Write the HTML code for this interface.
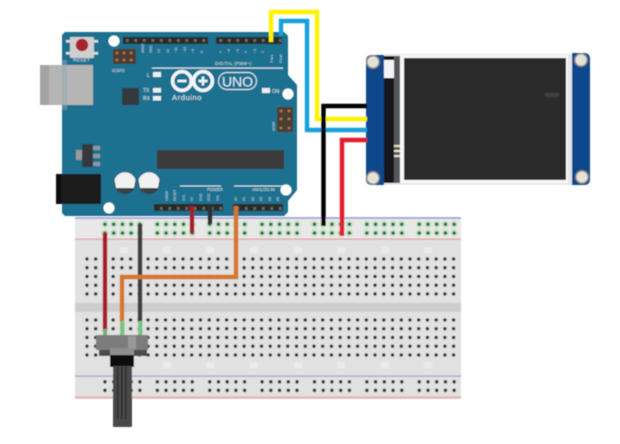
<!DOCTYPE html>
<html><head><meta charset="utf-8"><style>html,body{margin:0;padding:0;background:#fff;width:620px;height:444px;overflow:hidden}svg{display:block}text{font-family:"Liberation Sans",sans-serif}</style></head><body>
<svg width="620" height="444" viewBox="0 0 620 444" xmlns="http://www.w3.org/2000/svg">
<defs>
<filter id="b" x="-5%" y="-5%" width="110%" height="110%"><feGaussianBlur stdDeviation="0.45"/></filter>
<pattern id="h1" patternUnits="userSpaceOnUse" x="82.6" y="254.6" width="8.73" height="8.75"><circle cx="4.36" cy="4.37" r="1.7" fill="#2a2a2a"/></pattern>
<pattern id="h2" patternUnits="userSpaceOnUse" x="82.6" y="315.6" width="8.73" height="8.75"><circle cx="4.36" cy="4.37" r="1.7" fill="#2a2a2a"/></pattern>
<pattern id="r1" patternUnits="userSpaceOnUse" x="100.6" y="219.9" width="8.73" height="8.75"><circle cx="4.36" cy="4.37" r="3.6" fill="#c6e2c6"/><circle cx="4.36" cy="4.37" r="1.7" fill="#1f6a35"/></pattern>
<pattern id="r2" patternUnits="userSpaceOnUse" x="100.6" y="377.6" width="8.73" height="8.5"><circle cx="4.36" cy="4.25" r="1.7" fill="#2a2a2a"/></pattern>
<pattern id="hd" patternUnits="userSpaceOnUse" x="123" y="37" width="8.5" height="7"><rect width="8.5" height="7" fill="#2c2c2c"/><rect x="3" y="2" width="2.6" height="3" fill="#6b6b5c"/></pattern>
</defs>
<g filter="url(#b)">
<!-- breadboard -->
<rect x="75" y="217" width="386" height="182" fill="#e1e1e1"/>
<rect x="75" y="218" width="386" height="21" fill="#e8e8e8"/>
<rect x="75" y="303" width="386" height="9" fill="#cdcdcd"/>
<rect x="75" y="217" width="386" height="2" fill="#aaaadb"/>
<rect x="75" y="238.5" width="386" height="1.2" fill="#e59a9f"/>
<rect x="75" y="375.5" width="386" height="1.2" fill="#9c9cd6"/>
<rect x="75" y="396.5" width="386" height="2" fill="#e5aeb2"/>
<g fill="#ebebeb"><rect x="120" y="247" width="8" height="6"/><rect x="163" y="247" width="8" height="6"/><rect x="206" y="247" width="8" height="6"/><rect x="250" y="247" width="8" height="6"/><rect x="294" y="247" width="8" height="6"/><rect x="337" y="247" width="8" height="6"/><rect x="381" y="247" width="8" height="6"/><rect x="424" y="247" width="8" height="6"/><rect x="163" y="362" width="8" height="6"/><rect x="206" y="362" width="8" height="6"/><rect x="250" y="362" width="8" height="6"/><rect x="294" y="362" width="8" height="6"/><rect x="337" y="362" width="8" height="6"/><rect x="381" y="362" width="8" height="6"/><rect x="424" y="362" width="8" height="6"/></g>
<rect x="82.6" y="254.6" width="375" height="43.75" fill="url(#h1)"/>
<rect x="82.6" y="315.6" width="375" height="43.75" fill="url(#h2)"/>
<g fill="#e1e1e1"><rect x="100.5" y="254" width="8" height="45"/><rect x="100.5" y="315" width="8" height="45"/><rect x="135.6" y="254" width="8" height="18"/><rect x="231.5" y="254" width="8" height="18"/></g>
<g fill="url(#r1)"><rect x="100.6" y="219.9" width="43.65" height="17.5"/><rect x="152.9" y="219.9" width="43.65" height="17.5"/><rect x="205.3" y="219.9" width="43.65" height="17.5"/><rect x="257.7" y="219.9" width="43.65" height="17.5"/><rect x="309.6" y="219.9" width="43.65" height="17.5"/><rect x="362" y="219.9" width="43.65" height="17.5"/><rect x="414.4" y="219.9" width="43.65" height="17.5"/></g>
<g fill="url(#r2)"><rect x="100.6" y="377.6" width="43.65" height="17"/><rect x="152.9" y="377.6" width="43.65" height="17"/><rect x="205.3" y="377.6" width="43.65" height="17"/><rect x="257.7" y="377.6" width="43.65" height="17"/><rect x="309.6" y="377.6" width="43.65" height="17"/><rect x="362" y="377.6" width="43.65" height="17"/><rect x="414.4" y="377.6" width="43.65" height="17"/></g>

<!-- arduino -->
<path d="M62 35 L65 32 L284 32 L288 36 L288 75 L297 85 L297 190 L288 201 L288 212 L284 216 L65 216 L62 213 Z" fill="#1a6f90"/>
<rect x="40" y="65" width="53" height="40" fill="#b5b5b5"/><rect x="40" y="65" width="9" height="40" fill="#a3a3a3"/><rect x="62" y="60" width="5" height="50" fill="#8fa9b3" opacity=".5"/>
<rect x="70" y="37" width="24" height="21" rx="1" fill="#cfcfcf"/><rect x="66" y="40" width="4" height="2.5" fill="#ddd"/><rect x="66" y="52" width="4" height="2.5" fill="#ddd"/><rect x="94" y="40" width="4" height="2.5" fill="#ddd"/><rect x="94" y="52" width="4" height="2.5" fill="#ddd"/>
<circle cx="82" cy="45" r="6.2" fill="#a8262c"/>
<text x="73" y="61.5" font-size="4.6" fill="#dfe9ee" letter-spacing=".4">RESET</text>
<circle cx="114" cy="41" r="5.5" fill="#fff"/><circle cx="288" cy="94" r="5.5" fill="#fff"/><circle cx="109" cy="208" r="5.5" fill="#fff"/><circle cx="286" cy="190" r="5.5" fill="#fff"/>
<rect x="123" y="37" width="85" height="7" fill="url(#hd)"/><rect x="216" y="37" width="66" height="7" fill="url(#hd)"/>
<rect x="154" y="204" width="69" height="7" fill="url(#hd)"/><rect x="233" y="204" width="50" height="7" fill="url(#hd)"/>
<rect x="113" y="49" width="23" height="15" fill="#4d3c32"/><g fill="#a97f4e"><circle cx="117" cy="53" r="1.4"/><circle cx="124" cy="53" r="1.4"/><circle cx="131" cy="53" r="1.4"/><circle cx="117" cy="60" r="1.4"/><circle cx="124" cy="60" r="1.4"/><circle cx="131" cy="60" r="1.4"/></g>
<text x="112" y="72" font-size="4.4" fill="#dfe9ee">ICSP2</text>
<rect x="152" y="67.5" width="131" height="1.2" fill="#d7e5ea"/>
<text x="215" y="65" font-size="4.2" fill="#dfe9ee" letter-spacing=".3">DIGITAL (PWM~)</text>
<g font-size="3.6" fill="#c9dbe2"><text transform="translate(144,53) rotate(-90)">AREF</text><text transform="translate(152,53) rotate(-90)">GND</text><text transform="translate(160,53) rotate(-90)">13</text><text transform="translate(169,53) rotate(-90)">12</text><text transform="translate(177,53) rotate(-90)">~11</text><text transform="translate(186,53) rotate(-90)">~10</text><text transform="translate(194,53) rotate(-90)">~9</text><text transform="translate(203,53) rotate(-90)">8</text><text transform="translate(222,53) rotate(-90)">7</text><text transform="translate(230,53) rotate(-90)">~6</text><text transform="translate(239,53) rotate(-90)">~5</text><text transform="translate(247,53) rotate(-90)">4</text><text transform="translate(256,53) rotate(-90)">~3</text><text transform="translate(264,53) rotate(-90)">2</text><text transform="translate(273,63) rotate(-90)">TX▸1</text><text transform="translate(282,63) rotate(-90)">RX◂0</text></g>
<text x="147" y="77" font-size="5" fill="#e5eef2">L</text><rect x="153" y="72" width="8" height="5" fill="#e9eef0"/>
<text x="143" y="92" font-size="5" fill="#e5eef2">TX</text><rect x="153" y="88" width="8" height="4.5" fill="#e9eef0"/>
<text x="143" y="100" font-size="5" fill="#e5eef2">RX</text><rect x="153" y="96" width="8" height="4.5" fill="#e9eef0"/>
<rect x="122" y="88" width="17" height="17" fill="#35393d"/>
<g fill="none" stroke="#f2f6f8" stroke-width="3.6"><circle cx="182" cy="81" r="9.4"/><circle cx="203" cy="81" r="9.4"/></g>
<rect x="177.5" y="79.7" width="9" height="2.6" fill="#f2f6f8"/><rect x="198.5" y="79.7" width="9" height="2.6" fill="#f2f6f8"/><rect x="201.7" y="76.5" width="2.6" height="9" fill="#f2f6f8"/>
<text x="172" y="100" font-size="7.5" fill="#e5eef2" letter-spacing=".6" font-family="Liberation Mono">Arduino</text>
<rect x="218.5" y="72.5" width="38" height="17" rx="8.5" fill="none" stroke="#e5eef2" stroke-width="1"/>
<text x="237.5" y="86.5" font-size="14" fill="#e5eef2" text-anchor="middle">UNO</text>
<rect x="262" y="88" width="8" height="5" fill="#e9eef0"/><text x="272" y="93" font-size="5" fill="#e5eef2">ON</text>
<rect x="277" y="107" width="16" height="25" fill="#4d3c32"/><g fill="#a97f4e"><circle cx="281" cy="111" r="1.4"/><circle cx="289" cy="111" r="1.4"/><circle cx="281" cy="119" r="1.4"/><circle cx="289" cy="119" r="1.4"/><circle cx="281" cy="128" r="1.4"/><circle cx="289" cy="128" r="1.4"/></g>
<text transform="translate(275,131) rotate(-90)" font-size="4" fill="#dfe9ee">ICSP</text>
<rect x="157" y="150" width="127" height="19" fill="#3b3b3d"/>
<rect x="76" y="150" width="6" height="10" fill="#9a9a9a"/><rect x="82" y="144" width="11" height="23" fill="#35393d"/><g fill="#8d9aa0"><rect x="93" y="146" width="7" height="4"/><rect x="93" y="154" width="7" height="4"/><rect x="93" y="162" width="7" height="4"/></g>
<rect x="56" y="174" width="45" height="30" fill="#1d1d1f"/><rect x="56" y="174" width="5" height="30" fill="#111"/>
<circle cx="125" cy="183" r="11" fill="#3a3f42"/><path d="M114.5 180 A11 11 0 0 1 135.5 180 L134 188 L116 188 Z" fill="#f1f1f1"/>
<circle cx="149" cy="183" r="11" fill="#3a3f42"/><path d="M138.5 180 A11 11 0 0 1 159.5 180 L158 188 L140 188 Z" fill="#f1f1f1"/>
<rect x="180" y="185.5" width="41" height="1" fill="#d7e5ea"/><rect x="234" y="185.5" width="49" height="1" fill="#d7e5ea"/>
<text x="207" y="191" font-size="4.2" fill="#dfe9ee">POWER</text><text x="252" y="191" font-size="4.2" fill="#dfe9ee">ANALOG IN</text>
<g font-size="3.4" fill="#c9dbe2"><text transform="translate(168,201) rotate(-90)">IOREF</text><text transform="translate(176,201) rotate(-90)">RESET</text><text transform="translate(185,201) rotate(-90)">3V3</text><text transform="translate(193,201) rotate(-90)">5V</text><text transform="translate(202,201) rotate(-90)">GND</text><text transform="translate(210,201) rotate(-90)">GND</text><text transform="translate(219,201) rotate(-90)">VIN</text><text transform="translate(237,201) rotate(-90)">A0</text><text transform="translate(245,201) rotate(-90)">A1</text><text transform="translate(254,201) rotate(-90)">A2</text><text transform="translate(262,201) rotate(-90)">A3</text><text transform="translate(271,201) rotate(-90)">A4</text><text transform="translate(279,201) rotate(-90)">A5</text></g>

<!-- display -->
<rect x="384" y="54" width="188" height="131" fill="#e6e6e6"/>
<path d="M372 55 H384 V185 H372 Q366 185 366 179 V61 Q366 55 372 55Z" fill="#11478c"/>
<path d="M572 53 H584 Q590 53 590 59 V179 Q590 185 584 185 H572Z" fill="#11478c"/>
<rect x="384" y="56" width="17" height="127" fill="#17181a"/>
<rect x="384" y="60" width="10" height="18" fill="#f4f4f4"/>
<rect x="394" y="56" width="6" height="127" fill="#55585a"/>
<rect x="394" y="145" width="6" height="2" fill="#e8e4c0"/><rect x="394" y="150" width="6" height="2" fill="#e8e4c0"/><rect x="394" y="155" width="6" height="2" fill="#e8e4c0"/>
<rect x="400" y="55" width="168" height="128" fill="#f7f7f7"/>
<rect x="404" y="58" width="162" height="122" fill="#2a2a2a"/>
<rect x="545" y="93" width="14" height="4" fill="#3f3f3f"/>
<circle cx="373" cy="62" r="7" fill="#888"/><circle cx="373" cy="62" r="5.5" fill="#e5e3d6"/>
<circle cx="581" cy="60" r="7" fill="#888"/><circle cx="581" cy="60" r="5.5" fill="#e5e3d6"/>
<circle cx="373" cy="178" r="7" fill="#888"/><circle cx="373" cy="178" r="5.5" fill="#e5e3d6"/>
<circle cx="582" cy="177" r="7" fill="#888"/><circle cx="582" cy="177" r="5.5" fill="#e5e3d6"/>

<!-- wires -->
<g fill="none" stroke-width="4.4" stroke-linejoin="miter">
<path d="M271 42 V12 H317 V119 H367" stroke="#fff200"/>
<path d="M281 36 V21 H307 V130 H367" stroke="#12a0dc"/>
<path d="M342 236 V140 H367" stroke="#e31b2b"/>
<path d="M323.5 226 V106 H367" stroke="#000"/>
<path d="M192 206 V233" stroke="#a81c2a"/>
<path d="M210 206 V224" stroke="#2e2e33"/>
<path d="M105 233 V331" stroke="#a81c2a"/>
<path d="M140 224 V322" stroke="#3c3c3e"/>
<path d="M236 206 V277 H122 V322" stroke="#d8742a"/>
</g>
<rect x="103" y="329" width="4" height="7" fill="#6fb07a"/><rect x="120" y="321" width="4.5" height="14" fill="#79c584"/><rect x="138" y="321" width="4.5" height="14" fill="#79c584"/>
<!-- pot -->
<rect x="96" y="335" width="52" height="15" fill="#7c7c7c"/><rect x="128" y="336" width="8" height="13" fill="#999"/>
<rect x="99" y="350" width="48" height="6" fill="#4b4b4b"/><rect x="110" y="348" width="24" height="8" fill="#8e8e8e"/>
<rect x="110" y="355" width="24" height="12" fill="#0e0e0e"/>
<rect x="113" y="366" width="19" height="61" rx="1" fill="#4a4a4a"/>
<g fill="#2c2c2c"><rect x="117" y="367" width="1.5" height="52"/><rect x="121" y="367" width="1.5" height="52"/><rect x="125" y="367" width="1.5" height="52"/></g>
</g>
</svg>
</body></html>
